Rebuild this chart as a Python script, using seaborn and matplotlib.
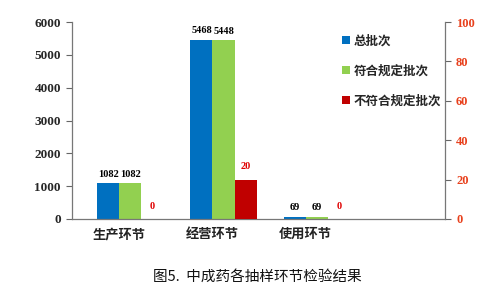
import numpy as np
import pandas as pd
import matplotlib
matplotlib.use("Agg")
import matplotlib.pyplot as plt
from matplotlib.patches import Patch
import seaborn as sns

categories = ["生产环节", "经营环节", "使用环节"]
series_names = ["总批次", "符合规定批次", "不符合规定批次"]
total = [1082, 5468, 69]
qualified = [1082, 5448, 69]
unqualified = [0, 20, 0]
left_ticks = [0, 1000, 2000, 3000, 4000, 5000, 6000]
right_ticks = [0, 20, 40, 60, 80, 100]
title = "图5.  中成药各抽样环节检验结果"

colors = {"总批次": "#0070C0", "符合规定批次": "#92D050", "不符合规定批次": "#C00000"}

sns.set_theme(style="white")
plt.rcParams["font.family"] = ["Noto Sans CJK SC", "DejaVu Sans"]

idx = np.arange(len(categories))
shift = 0.125
pos = idx + shift
n = len(categories)
blank = [0] * n

# primary axis: total & qualified (unqualified slot reserved, empty)
df1 = pd.DataFrame({
    "pos": np.concatenate([pos, pos, pos]),
    "value": total + qualified + blank,
    "series": [series_names[0]] * n + [series_names[1]] * n + [series_names[2]] * n,
})
# secondary axis: unqualified (other slots reserved, empty)
df2 = pd.DataFrame({
    "pos": np.concatenate([pos, pos, pos]),
    "value": blank + blank + unqualified,
    "series": [series_names[0]] * n + [series_names[1]] * n + [series_names[2]] * n,
})

fig = plt.figure(figsize=(5, 2.95), dpi=100)
ax = fig.add_axes([0.144, 0.258, 0.746, 0.667])
ax2 = ax.twinx()

sns.barplot(data=df1, x="pos", y="value", hue="series", hue_order=series_names,
            palette=colors, native_scale=True, width=0.71, ax=ax, legend=False,
            saturation=1, errorbar=None, linewidth=0)
sns.barplot(data=df2, x="pos", y="value", hue="series", hue_order=series_names,
            palette=colors, native_scale=True, width=0.71, ax=ax2, legend=False,
            saturation=1, errorbar=None, linewidth=0)

# hide reserved empty slots
for p in ax.containers[2]:
    p.set_visible(False)
for c in ax2.containers[:2]:
    for p in c:
        p.set_visible(False)

ax.set_ylim(0, 6000)
ax2.set_ylim(0, 100)
ax.set_xlim(-0.5, 3.5)
ax2.set_xlim(-0.5, 3.5)

num_font = dict(family="Liberation Serif", weight="bold")
for c in ax.containers[:2]:
    ax.bar_label(c, fmt="%d", padding=3, fontsize=7.5, color="black", **num_font)
ax2.bar_label(ax2.containers[2], fmt="%d", padding=6, fontsize=7.5, color="#E00000", **num_font)

ax.set_yticks(left_ticks)
ax.set_yticklabels([str(t) for t in left_ticks], fontsize=9.5, **num_font)
ax2.set_yticks(right_ticks)
ax2.set_yticklabels([str(t) for t in right_ticks], fontsize=9, color="#E8401C", **num_font)

ax.set_xticks([0.5, 1.5, 2.5])
ax.set_xticklabels([])
ax.set_xticks(idx, minor=True)
ax.set_xticklabels(categories, minor=True, fontsize=9.5, fontweight="bold", color="#222222")
ax.tick_params(axis="x", which="minor", length=0, pad=6)
ax.tick_params(axis="x", which="major", length=4, width=0.8, color="#666666", direction="out")
ax.tick_params(axis="y", length=4, width=0.8, color="#666666", direction="out", pad=4, left=True)
ax2.tick_params(axis="y", length=4, width=0.8, color="#666666", direction="out", pad=4, right=True)
ax.set_xlabel("")
ax.set_ylabel("")
ax2.set_ylabel("")

for a in (ax, ax2):
    a.spines["top"].set_visible(False)
    for s in ("left", "bottom", "right"):
        a.spines[s].set_color("#777777")
        a.spines[s].set_linewidth(0.9)
ax.spines["right"].set_visible(False)
ax2.spines["left"].set_visible(False)
ax2.spines["bottom"].set_visible(False)

handles = [Patch(facecolor=colors[s], edgecolor="none", label=s) for s in series_names]
fig.legend(handles=handles, loc="upper left", bbox_to_anchor=(0.662, 0.92),
           frameon=False, labelspacing=1.35, handlelength=0.6, handleheight=0.6,
           handletextpad=0.3, prop={"family": "Noto Sans CJK SC", "size": 9, "weight": "bold"})

fig.text(0.515, 0.062, title, ha="center", va="center", fontsize=10.5, color="#111111")

fig.savefig("out.png", dpi=100)
